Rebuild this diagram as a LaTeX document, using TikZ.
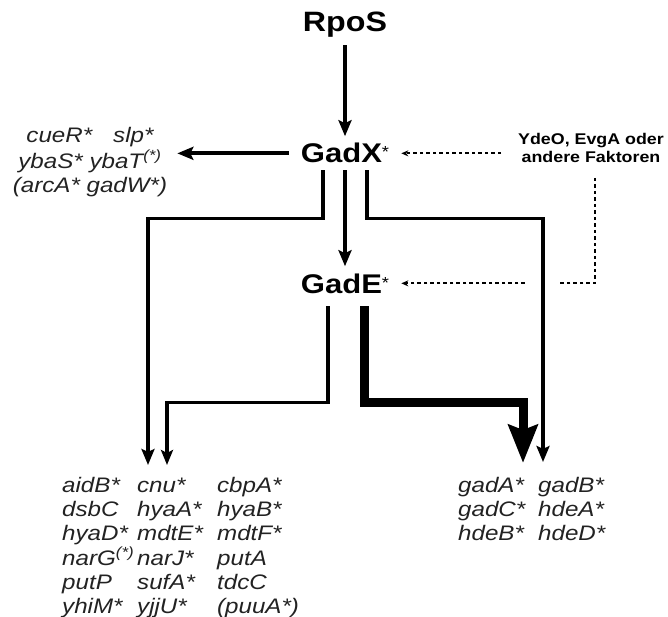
\documentclass[tikz,border=0pt]{standalone}
\usepackage{fontspec}
\setmainfont{Liberation Sans}[FakeStretch=1.15]
\usetikzlibrary{arrows.meta,calc}
\definecolor{genegrey}{HTML}{222222}
\newcommand{\regstar}{\raisebox{5pt}{\fontsize{16}{16}\selectfont\mdseries*}}

\begin{document}
\begin{tikzpicture}[x=1pt, y=-1pt,
  reg/.style={inner xsep=12pt, inner ysep=7pt, font=\fontsize{27}{30}\selectfont\bfseries},
  genes/.style={inner sep=0pt, text=genegrey, font=\fontsize{21}{24}\selectfont\itshape},
  note/.style={inner sep=3pt, align=center, font=\fontsize{15.5}{18}\selectfont\bfseries},
  arr/.style={-{Stealth[length=16pt,width=13pt,inset=3pt]}, line width=3.8pt},
  thin/.style={-{Stealth[length=15pt,width=12pt,inset=3pt]}, line width=3.2pt},
  fat/.style={-{Stealth[length=38pt,width=29pt,inset=5pt]}, line width=9pt},
  dots/.style={-{Stealth[length=7pt,width=6pt]}, line width=1.8pt, dash pattern=on 3.5pt off 3pt}
]
\useasboundingbox (0,0) rectangle (668,617);

\node[reg, anchor=base, font=\fontsize{28}{30}\selectfont\bfseries] (rpos) at (345,32) {RpoS};
\node[reg, anchor=base] (gadx) at (345,163) {GadX\regstar};
\node[reg, anchor=base] (gade) at (345,293) {GadE\regstar};
\node[note] (ydeo) at (591,148) {YdeO, EvgA oder\\andere Faktoren};

\node[genes, inner xsep=10pt, anchor=base] (tl) at (90,143) {\begin{tabular}[t]{@{}c@{}}
  cueR*\quad slp*\\ ybaS* ybaT\textsuperscript{(*)}\\ (arcA* gadW*)\end{tabular}};
\node[genes, anchor=base west] (bl) at (62,492) {\begin{tabular}[t]{@{}p{75pt}@{}p{80pt}@{}l@{}}
  aidB* & cnu* & cbpA*\\
  dsbC & hyaA* & hyaB*\\
  hyaD* & mdtE* & mdtF*\\
  narG\textsuperscript{(*)} & narJ* & putA\\
  putP & sufA* & tdcC\\
  yhiM* & yjjU* & (puuA*)\end{tabular}};
\node[genes, anchor=base west] (br) at (458,492) {\begin{tabular}[t]{@{}p{80pt}@{}l@{}}
  gadA* & gadB*\\
  gadC* & hdeA*\\
  hdeB* & hdeD*\end{tabular}};

% signals from other factors
\draw[dots, shorten <=14pt] (ydeo.west |- gadx.east) -- (gadx.east);
\draw[dots, shorten <=12pt] ([xshift=4pt]ydeo.south) |- (gade.east);

% regulation
\draw[arr] (rpos) -- (gadx);
\draw[arr] (gadx) -- (gade);
\draw[arr] (gadx.west) -- (tl.east |- gadx.west);
\draw[arr] ([xshift=-22pt]gadx.south) -- ++(0,48) -| ([xshift=86pt,yshift=10pt]bl.north west);
\draw[arr, preaction={draw=white, line width=30pt, arrows=-}]
  ([xshift=22pt]gadx.south) -- ++(0,48) -| ([xshift=85pt,yshift=13pt]br.north west);
\draw[thin, shorten <=6pt] ([xshift=-17pt]gade.south) -- ++(0,102) -| ([xshift=105pt,yshift=10pt]bl.north west);
\draw[fat, shorten <=6pt] ([xshift=19pt]gade.south) -- ++(0,102) -| ([xshift=65pt,yshift=12pt]br.north west);
\end{tikzpicture}
\end{document}
